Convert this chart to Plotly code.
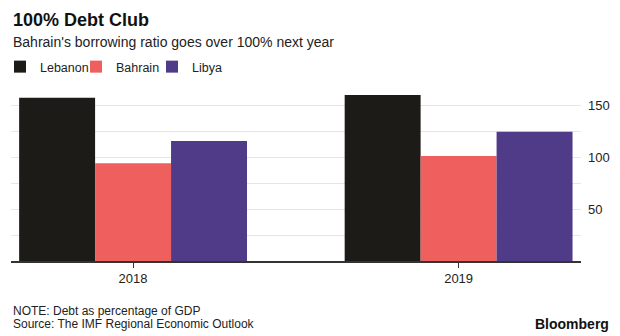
import plotly.graph_objects as go

years = ["2018", "2019"]
countries = ["Lebanon", "Bahrain", "Libya"]
lebanon = [157.5, 160.2]
bahrain = [94.3, 101.4]
libya = [115.8, 124.8]
series_values = [lebanon, bahrain, libya]
colors = ["#1d1b18", "#ee5f5d", "#4f3b87"]
y_tickvals = [25, 50, 75, 100, 125, 150]
y_ticktext = ["", "50", "", "100", "", "150"]

FONT = "Liberation Sans, Arial, sans-serif"

fig = go.Figure()
for name, vals, col in zip(countries, series_values, colors):
    fig.add_trace(go.Bar(x=years, y=vals, name=name, marker=dict(color=col, line=dict(width=0))))

# plot area: x 11..581, y 90..261
L, R, T, B = 11, 39, 90, 75
H = 336 - T - B

def py(pix):
    return (336 - B - pix) / H

fig.update_layout(
    template="none",
    width=620, height=336,
    margin=dict(l=L, r=R, t=T, b=B, pad=0, autoexpand=False),
    paper_bgcolor="white", plot_bgcolor="white",
    barmode="group", bargap=0.3, bargroupgap=0,
    font=dict(family=FONT, color="#222"),
    showlegend=True,
    legend=dict(orientation="h", xref="container", yref="container",
                x=-7 / 620, xanchor="left", y=(336 - 67) / 336, yanchor="middle",
                font=dict(size=12.5, color="#222"), traceorder="normal",
                itemwidth=30, entrywidth=31, entrywidthmode="pixels",
                bgcolor="rgba(0,0,0,0)", borderwidth=0),
    hovermode=False,
    xaxis=dict(type="category", range=[-0.375, 1.376], showgrid=False, automargin=False,
               showline=True, linecolor="#333", linewidth=1.5,
               ticks="outside", ticklen=5, tickcolor="#333", tickwidth=1,
               tickfont=dict(size=13, color="#222"), fixedrange=True),
    yaxis=dict(side="right", range=[0, 165], tickvals=y_tickvals, ticktext=y_ticktext,
               showgrid=True, gridcolor="#e6e6e6", gridwidth=1, zeroline=False, automargin=False,
               showline=False, ticks="", ticklabelstandoff=6,
               tickfont=dict(size=13, color="#222"), fixedrange=True),
    annotations=[
        dict(text="<b>100% Debt Club</b>", xref="paper", yref="paper", x=0, y=py(20),
             xanchor="left", yanchor="middle", showarrow=False,
             font=dict(size=18, color="#111", family=FONT)),
        dict(text="Bahrain's borrowing ratio goes over 100% next year", xref="paper", yref="paper",
             x=0, y=py(42), xanchor="left", yanchor="middle", showarrow=False,
             font=dict(size=14, color="#222", family=FONT)),
        dict(text="NOTE: Debt as percentage of GDP", xref="paper", yref="paper",
             x=0, y=py(311), xanchor="left", yanchor="middle", showarrow=False,
             font=dict(size=12, color="#222", family=FONT)),
        dict(text="Source: The IMF Regional Economic Outlook", xref="paper", yref="paper",
             x=0, y=py(324), xanchor="left", yanchor="middle", showarrow=False,
             font=dict(size=12, color="#222", family=FONT)),
        dict(text="<b>Bloomberg</b>", xref="paper", yref="paper",
             x=(611 - L) / (620 - L - R), y=py(324), xanchor="right", yanchor="middle", showarrow=False,
             font=dict(size=14, color="#111", family=FONT)),
    ],
)

fig.write_html("out.html", config={"displayModeBar": False})
